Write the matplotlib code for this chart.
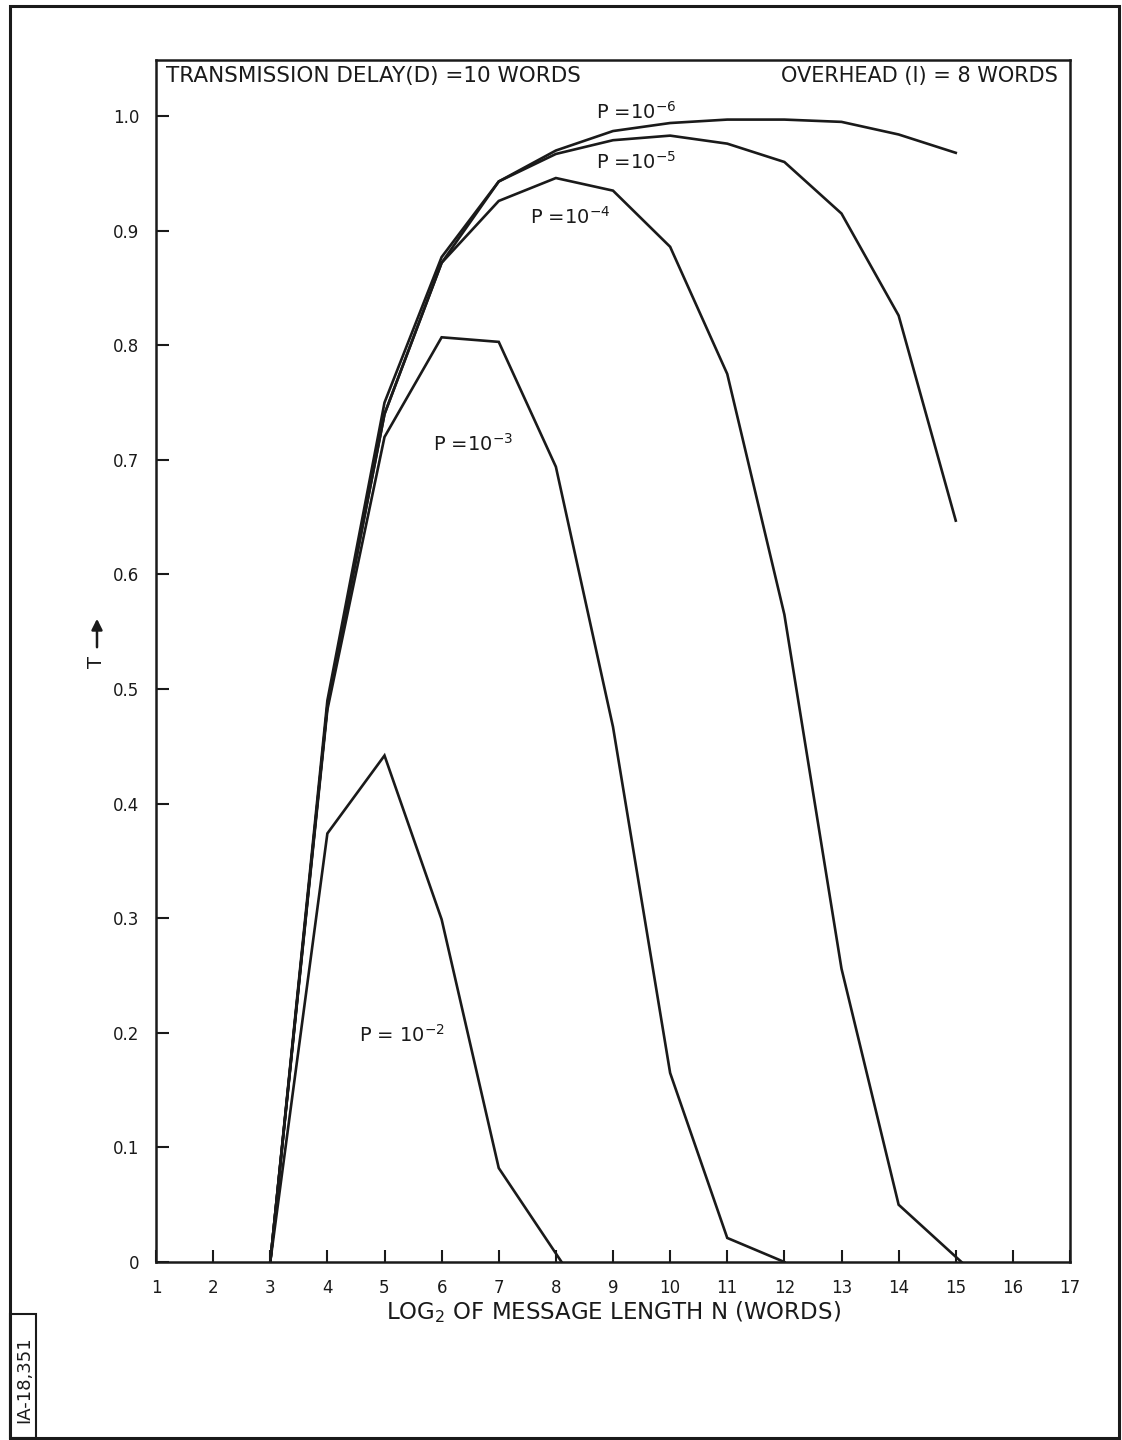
import matplotlib
matplotlib.use("Agg")
import matplotlib.pyplot as plt
from matplotlib.patches import Rectangle

# throughput T against log2 of message length, one curve per error rate P
x_6 = [3, 4, 5, 6, 7, 8, 9, 10, 11, 12, 13, 14, 15]
t_6 = [0, 0.49, 0.75, 0.877, 0.943, 0.970, 0.987, 0.994, 0.997, 0.997, 0.995, 0.984, 0.968]

x_5 = [3, 4, 5, 6, 7, 8, 9, 10, 11, 12, 13, 14, 15]
t_5 = [0, 0.485, 0.74, 0.872, 0.943, 0.967, 0.979, 0.983, 0.976, 0.960, 0.915, 0.826, 0.647]

x_4 = [3, 4, 5, 6, 7, 8, 9, 10, 11, 12, 13, 14, 15.1]
t_4 = [0, 0.485, 0.74, 0.872, 0.926, 0.946, 0.935, 0.886, 0.775, 0.565, 0.256, 0.050, 0]

x_3 = [3, 4, 5, 6, 7, 8, 9, 10, 11, 12]
t_3 = [0, 0.482, 0.72, 0.807, 0.803, 0.694, 0.467, 0.165, 0.021, 0]

x_2 = [3, 4, 5, 6, 7, 8.1]
t_2 = [0, 0.374, 0.442, 0.299, 0.082, 0]

curve_labels = ["P =10$^{-6}$", "P =10$^{-5}$", "P =10$^{-4}$", "P =10$^{-3}$", "P = 10$^{-2}$"]
label_pos = [(8.7, 1.004), (8.7, 0.960), (7.55, 0.912), (5.85, 0.714), (4.55, 0.198)]

x_ticks = list(range(1, 18))
y_ticks = [0, 0.1, 0.2, 0.3, 0.4, 0.5, 0.6, 0.7, 0.8, 0.9, 1.0]
y_ticklabels = ["0", "0.1", "0.2", "0.3", "0.4", "0.5", "0.6", "0.7", "0.8", "0.9", "1.0"]

W, H = 1122, 1440
fig = plt.figure(figsize=(W / 100, H / 100), dpi=100)
fig.patch.set_facecolor("white")
ax = fig.add_axes([156 / W, 1 - 1262 / H, (1070 - 156) / W, (1262 - 60) / H])

ink = "#1a1a1a"
for xs, ts in [(x_6, t_6), (x_5, t_5), (x_4, t_4), (x_3, t_3), (x_2, t_2)]:
    ax.plot(xs, ts, color=ink, lw=1.9, solid_joinstyle="miter")

for lab, (lx, ly) in zip(curve_labels, label_pos):
    ax.text(lx, ly, lab, fontsize=14, color=ink, ha="left", va="center")

ax.text(0.011, 0.995, "TRANSMISSION DELAY(D) =10 WORDS", transform=ax.transAxes,
        fontsize=15.5, color=ink, ha="left", va="top")
ax.text(0.987, 0.995, "OVERHEAD (I) = 8 WORDS", transform=ax.transAxes,
        fontsize=15, color=ink, ha="right", va="top")

ax.set_xlim(1, 17)
ax.set_ylim(0, 1.049)
ax.set_xticks(x_ticks)
ax.set_yticks(y_ticks)
ax.set_yticklabels(y_ticklabels)
ax.tick_params(direction="in", length=9, width=1.5, color=ink, labelsize=12,
               labelcolor=ink)
ax.tick_params(axis="x", pad=12)
ax.tick_params(axis="y", pad=12)
for s in ax.spines.values():
    s.set_linewidth(1.8)
    s.set_color(ink)

ax.set_xlabel("LOG$_2$ OF MESSAGE LENGTH N (WORDS)", fontsize=16.5, color=ink, labelpad=2)

# rotated axis name with an upward arrow
fig.text(97 / W, 1 - 662 / H, "T", rotation=90, fontsize=14, color=ink,
         ha="center", va="center")
ax.annotate("", xy=(97 / W, 1 - 616 / H), xytext=(97 / W, 1 - 650 / H),
            xycoords="figure fraction", textcoords="figure fraction",
            arrowprops=dict(arrowstyle="-|>", color=ink, lw=1.8, mutation_scale=16))

# page frame and drawing number box
fig.patches.append(Rectangle((10 / W, 1 - 1438 / H), (1119 - 10) / W, (1438 - 6) / H,
                             transform=fig.transFigure, fill=False, lw=2.2, ec=ink))
fig.patches.append(Rectangle((10 / W, 1 - 1438 / H), (36 - 10) / W, (1438 - 1314) / H,
                             transform=fig.transFigure, fill=False, lw=1.5, ec=ink))
fig.text(24 / W, 1 - 1380 / H, "IA-18,351", rotation=90, fontsize=13, color=ink,
         ha="center", va="center")

fig.savefig("out.png", dpi=100)
